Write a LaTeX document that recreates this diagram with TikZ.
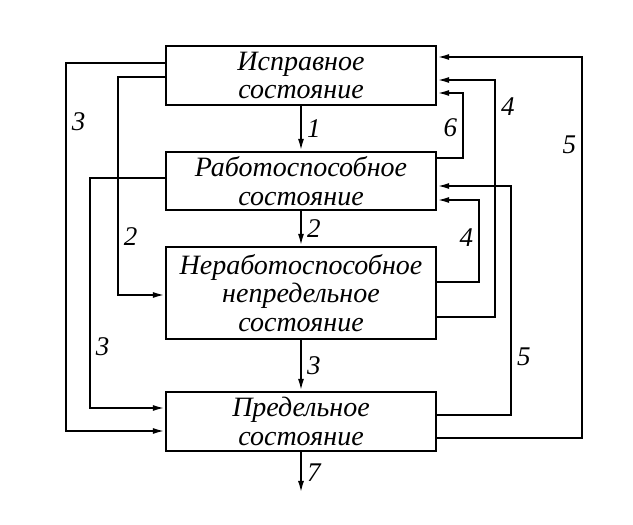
\documentclass[tikz,border=0pt]{standalone}
\usepackage{fontspec}
\setmainfont{Liberation Serif}
\usetikzlibrary{arrows.meta}

\begin{document}
\begin{tikzpicture}[
  x=1pt, y=1pt,
  state/.style={draw, line width=2.2pt, minimum width=270pt, inner sep=0pt, align=center,
    font=\fontsize{28}{28.5}\selectfont\itshape},
  link/.style={line width=2pt, -{Latex[length=12pt,width=6pt]}},
  num/.style={font=\fontsize{27}{27}\selectfont\itshape, inner sep=5pt}
]
\useasboundingbox (0,0) rectangle (633,525);

\node [state, minimum height=59pt] (s1) at (301,449.5) {Исправное\\состояние};
\node [state, minimum height=58pt] (s2) at (301,344) {Работоспособное\\состояние};
\node [state, minimum height=92pt] (s3) at (301,232) {Неработоспособное\\непредельное\\состояние};
\node [state, minimum height=59pt] (s4) at (301,103.5) {Предельное\\состояние};
\coordinate (out) at (301,32);

\draw [link] (s1.south) -- (s2.north) node [num, midway, right] {1};
\draw [link] (s2.south) -- (s3.north) node [num, midway, right] {2};
\draw [link] (s3.south) -- (s4.north) node [num, midway, right] {3};
\draw [link] (s4.south) -- (out) node [num, midway, right] {7};

\draw [link] ([yshift=12.5]s1.west) -- ++(-99,0) |- ([yshift=-9.5]s4.west) node [num, pos=0.08, right] {3};
\draw [link] ([yshift=-1.5]s1.west) -- ++(-47,0) |- ([yshift=-2]s3.west) node [num, pos=0.367, right] {2};
\draw [link] ([yshift=3]s2.west) -- ++(-75,0) |- ([yshift=13.5]s4.west) node [num, pos=0.367, right] {3};

\draw [link] ([yshift=-16.5]s4.east) -- ++(145,0) |- ([yshift=18.5]s1.east) node [num, pos=0.385, left] {5};
\draw [link] ([yshift=-24]s3.east) -- ++(58,0) |- ([yshift=-4.5]s1.east) node [num, pos=0.443, right] {4};
\draw [link] ([yshift=23]s2.east) -- ++(26,0) |- ([yshift=-17.5]s1.east) node [num, pos=0.23, left] {6};
\draw [link] ([yshift=6.5]s4.east) -- ++(74,0) |- ([yshift=-5]s2.east) node [num, pos=0.127, right] {5};
\draw [link] ([yshift=11]s3.east) -- ++(42,0) |- ([yshift=-19]s2.east) node [num, pos=0.27, left] {4};
\end{tikzpicture}
\end{document}
